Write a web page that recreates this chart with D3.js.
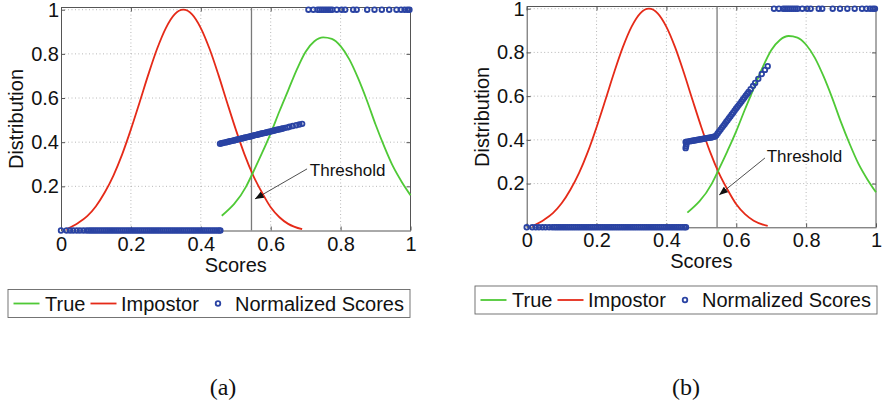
<!DOCTYPE html>
<html>
<head>
<meta charset="utf-8">
<script src="https://cdn.jsdelivr.net/npm/d3@7"></script>
<style>
  body { margin: 0; background: #fff; }
  text { font-family: "Liberation Sans", Arial, sans-serif; fill: #111; }
</style>
</head>
<body>
<svg id="chart" width="882" height="406"></svg>
<script>
// tick labels
const xTicks = [0, 0.2, 0.4, 0.6, 0.8, 1];
const yTicks = [0.2, 0.4, 0.6, 0.8, 1];

// score distributions (same in both panels)
const trueX = [0.46, 0.53, 0.55, 0.575, 0.6, 0.625, 0.65, 0.675, 0.7, 0.725, 0.75, 0.775, 0.8, 0.825, 0.85, 0.875, 0.9, 0.925, 0.95, 0.975, 1.0];
const trueY = [0.067, 0.2, 0.265, 0.35, 0.44, 0.54, 0.635, 0.73, 0.81, 0.857, 0.875, 0.868, 0.835, 0.775, 0.69, 0.59, 0.48, 0.38, 0.29, 0.22, 0.16];
const impX = [0.015, 0.05, 0.075, 0.1, 0.125, 0.15, 0.175, 0.2, 0.225, 0.25, 0.275, 0.3, 0.325, 0.35, 0.375, 0.4, 0.425, 0.45, 0.475, 0.5, 0.525, 0.55, 0.575, 0.6, 0.625, 0.65, 0.69];
const impY = [0.005, 0.035, 0.065, 0.11, 0.172, 0.249, 0.345, 0.458, 0.581, 0.707, 0.823, 0.917, 0.979, 1.0, 0.979, 0.917, 0.823, 0.707, 0.581, 0.458, 0.345, 0.249, 0.172, 0.105, 0.06, 0.03, 0.006];

const threshold = 0.545;

// normalized scores: row at 0 and row at 1 (same in both panels)
const zeroRowX = [0, 0.016, 0.026, 0.035, 0.045, 0.054, 0.064, 0.073,
  0.080, 0.086, 0.092, 0.098, 0.104, 0.110, 0.116, 0.122, 0.128, 0.134, 0.140, 0.146, 0.152, 0.158, 0.164, 0.170,
  0.176, 0.182, 0.188, 0.194, 0.200, 0.206, 0.212, 0.218, 0.224, 0.230, 0.236, 0.242, 0.248, 0.254, 0.260, 0.266,
  0.272, 0.278, 0.284, 0.290, 0.296, 0.302, 0.308, 0.314, 0.320, 0.326, 0.332, 0.338, 0.344, 0.350, 0.356, 0.362,
  0.368, 0.374, 0.380, 0.386, 0.392, 0.398, 0.404, 0.410, 0.416, 0.422, 0.428, 0.434, 0.440, 0.446, 0.452, 0.456];
const topRowX = [0.708, 0.722, 0.734, 0.740, 0.746, 0.752, 0.758, 0.764, 0.770, 0.776, 0.789, 0.803, 0.813, 0.836, 0.846,
  0.876, 0.897, 0.918, 0.939, 0.960, 0.973, 0.983, 0.991, 0.997];

// normalized scores between the rows
const midX = [0.455, 0.459, 0.463, 0.467, 0.471, 0.475, 0.479, 0.483, 0.487, 0.491, 0.495, 0.499, 0.503, 0.507, 0.511,
  0.515, 0.519, 0.523, 0.527, 0.531, 0.535, 0.539, 0.543, 0.547, 0.551, 0.555, 0.559, 0.563, 0.567, 0.571, 0.575,
  0.579, 0.583, 0.587, 0.591, 0.595, 0.599, 0.603, 0.607, 0.611, 0.615, 0.619, 0.623, 0.627, 0.631, 0.635,
  0.641, 0.648, 0.654, 0.663, 0.673, 0.682, 0.690];
const midYa = [0.393, 0.395, 0.396, 0.398, 0.399, 0.401, 0.402, 0.404, 0.405, 0.407, 0.408, 0.410, 0.411, 0.413, 0.415,
  0.416, 0.418, 0.419, 0.421, 0.422, 0.424, 0.425, 0.427, 0.428, 0.430, 0.432, 0.433, 0.435, 0.436, 0.438, 0.439,
  0.441, 0.442, 0.444, 0.445, 0.447, 0.448, 0.450, 0.452, 0.453, 0.455, 0.456, 0.458, 0.459, 0.461, 0.462,
  0.465, 0.467, 0.470, 0.473, 0.477, 0.480, 0.483];
const midYb = [0.390, 0.391, 0.392, 0.394, 0.395, 0.396, 0.397, 0.398, 0.399, 0.401, 0.402, 0.403, 0.404, 0.405, 0.406,
  0.408, 0.409, 0.410, 0.411, 0.412, 0.414, 0.415, 0.421, 0.430, 0.439, 0.447, 0.456, 0.464, 0.473, 0.482, 0.490,
  0.499, 0.507, 0.516, 0.524, 0.533, 0.542, 0.550, 0.559, 0.567, 0.576, 0.585, 0.593, 0.602, 0.610, 0.619,
  0.632, 0.647, 0.660, 0.679, 0.701, 0.720, 0.737];
const lowTailXb = [0.455, 0.456, 0.457];
const lowTailYb = [0.362, 0.370, 0.378];

const legendLabels = ['True', 'Impostor', 'Normalized Scores'];

const colors = { true: '#4fc936', impostor: '#e52a18', scores: '#2a43a3' };

const panels = [
  { caption: '(a)', left: 61, right: 410.5, top: 7.5, bottom: 230.5,
    midY: midYa, extraX: [], extraY: [],
    note: { tip: [0.555, 0.143], tail: [0.704, 0.279], text: [0.712, 0.247] },
    legend: { x: 8, y: 289.5 }, captionX: 223 },
  { caption: '(b)', left: 526.7, right: 876, top: 6.5, bottom: 227.3,
    midY: midYb, extraX: lowTailXb, extraY: lowTailYb,
    note: { tip: [0.551, 0.148], tail: [0.682, 0.317], text: [0.687, 0.300] },
    legend: { x: 475, y: 286 }, captionX: 686 }
];

const svg = d3.select('#chart');

svg.append('defs').append('marker')
  .attr('id', 'arrow')
  .attr('viewBox', '0 0 10 8')
  .attr('refX', 10).attr('refY', 4)
  .attr('markerWidth', 9).attr('markerHeight', 7)
  .attr('markerUnits', 'userSpaceOnUse')
  .attr('orient', 'auto')
  .append('path')
  .attr('d', 'M0,0L10,4L0,8Z')
  .attr('fill', '#111');

function drawPanel(p) {
  const x = d3.scaleLinear().domain([0, 1]).range([p.left, p.right]);
  const y = d3.scaleLinear().domain([0, 1.01]).range([p.bottom, p.top]);
  const g = svg.append('g');

  // dotted grid
  g.append('g')
    .selectAll('line')
    .data(xTicks.filter(d => d > 0 && d < 1))
    .join('line')
    .attr('x1', d => x(d)).attr('x2', d => x(d))
    .attr('y1', p.top).attr('y2', p.bottom);
  g.append('g')
    .selectAll('line')
    .data(yTicks)
    .join('line')
    .attr('x1', p.left).attr('x2', p.right)
    .attr('y1', d => y(d)).attr('y2', d => y(d));
  g.selectAll('g line')
    .attr('stroke', '#b0b0b0')
    .attr('stroke-width', 0.9)
    .attr('stroke-dasharray', '1,2.5');

  // axes
  const bottom = g.append('g')
    .attr('transform', `translate(0,${p.bottom})`)
    .call(d3.axisBottom(x).tickValues(xTicks).tickFormat(d3.format('~g'))
      .tickSizeInner(-4).tickSizeOuter(0).tickPadding(6));
  const left = g.append('g')
    .attr('transform', `translate(${p.left},0)`)
    .call(d3.axisLeft(y).tickValues(yTicks).tickFormat(d3.format('~g'))
      .tickSizeInner(-4).tickSizeOuter(0).tickPadding(2));
  const top = g.append('g')
    .attr('transform', `translate(0,${p.top})`)
    .call(d3.axisTop(x).tickValues(xTicks).tickFormat('').tickSizeInner(-4).tickSizeOuter(0));
  const right = g.append('g')
    .attr('transform', `translate(${p.right},0)`)
    .call(d3.axisRight(y).tickValues(yTicks).tickFormat('').tickSizeInner(-4).tickSizeOuter(0));
  [bottom, left, top, right].forEach(a => {
    a.select('.domain').attr('stroke', '#555');
    a.selectAll('.tick line').attr('stroke', '#555');
    a.selectAll('text').attr('font-size', 20).attr('fill', '#111')
      .style('font-family', '"Liberation Sans", Arial, sans-serif');
  });
  top.select('.domain').attr('d', `M${p.left},0H${p.right}`);
  right.select('.domain').attr('d', `M0,${p.top}V${p.bottom}`);

  // axis titles
  g.append('text')
    .attr('x', (p.left + p.right) / 2).attr('y', p.bottom + 41)
    .attr('text-anchor', 'middle').attr('font-size', 20)
    .text('Scores');
  g.append('text')
    .attr('transform', `translate(${p.left - 38},${(p.top + p.bottom) / 2}) rotate(-90)`)
    .attr('text-anchor', 'middle').attr('font-size', 20)
    .text('Distribution');

  // threshold line
  g.append('line')
    .attr('x1', x(threshold)).attr('x2', x(threshold))
    .attr('y1', p.top).attr('y2', p.bottom)
    .attr('stroke', '#7a7a7a').attr('stroke-width', 1.3);

  // distributions
  const line = d3.line().x(d => x(d[0])).y(d => y(d[1])).curve(d3.curveMonotoneX);
  g.append('path')
    .attr('d', line(d3.zip(impX, impY)))
    .attr('fill', 'none').attr('stroke', colors.impostor).attr('stroke-width', 1.8);
  g.append('path')
    .attr('d', line(d3.zip(trueX, trueY)))
    .attr('fill', 'none').attr('stroke', colors.true).attr('stroke-width', 1.8);

  // normalized scores
  const pts = [
    ...zeroRowX.map(v => [v, 0]),
    ...p.extraX.map((v, i) => [v, p.extraY[i]]),
    ...midX.map((v, i) => [v, p.midY[i]]),
    ...topRowX.map(v => [v, 1])
  ];
  g.append('g')
    .selectAll('circle')
    .data(pts)
    .join('circle')
    .attr('cx', d => x(d[0]))
    .attr('cy', d => y(d[1]))
    .attr('r', 2.3)
    .attr('fill', 'none')
    .attr('stroke', colors.scores)
    .attr('stroke-width', 1.8);

  // threshold annotation
  g.append('line')
    .attr('x1', x(p.note.tail[0])).attr('y1', y(p.note.tail[1]))
    .attr('x2', x(p.note.tip[0])).attr('y2', y(p.note.tip[1]))
    .attr('stroke', '#222').attr('stroke-width', 0.8)
    .attr('marker-end', 'url(#arrow)');
  g.append('text')
    .attr('x', x(p.note.text[0])).attr('y', y(p.note.text[1]))
    .attr('font-size', 17)
    .text('Threshold');

  // legend
  const lg = g.append('g').attr('transform', `translate(${p.legend.x},${p.legend.y})`);
  lg.append('rect')
    .attr('width', 402).attr('height', 28)
    .attr('fill', '#fff').attr('stroke', '#666').attr('stroke-width', 0.9);
  lg.append('line').attr('x1', 5.5).attr('x2', 31.5).attr('y1', 14).attr('y2', 14)
    .attr('stroke', colors.true).attr('stroke-width', 1.8);
  lg.append('line').attr('x1', 82.5).attr('x2', 108.5).attr('y1', 14).attr('y2', 14)
    .attr('stroke', colors.impostor).attr('stroke-width', 1.8);
  lg.append('circle').attr('cx', 210).attr('cy', 14).attr('r', 2.3)
    .attr('fill', 'none').attr('stroke', colors.scores).attr('stroke-width', 1.8);
  lg.selectAll('text.lab')
    .data(legendLabels)
    .join('text')
    .attr('class', 'lab')
    .attr('x', (d, i) => [37, 113, 227][i])
    .attr('y', 21)
    .attr('font-size', 20)
    .text(d => d);

  // caption
  svg.append('text')
    .attr('x', p.captionX).attr('y', 395)
    .attr('text-anchor', 'middle')
    .attr('font-size', 24)
    .style('font-family', '"Liberation Serif", "DejaVu Serif", serif')
    .text(p.caption);
}

panels.forEach(drawPanel);
</script>
</body>
</html>
